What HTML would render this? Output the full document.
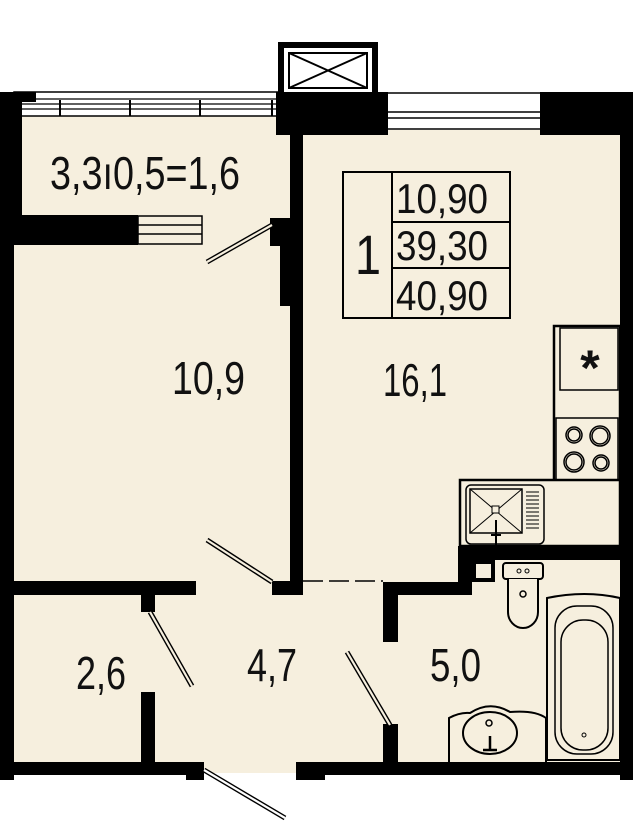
<!DOCTYPE html>
<html><head><meta charset="utf-8"><style>html,body{margin:0;padding:0;background:#fff}svg{display:block}text{font-family:"Liberation Sans",sans-serif;fill:#111}</style></head>
<body>
<svg width="633" height="830" viewBox="0 0 633 830" xmlns="http://www.w3.org/2000/svg">
<rect x="14" y="100" width="610" height="665" fill="#f6efde"/>
<rect x="200" y="765" width="100" height="8" fill="#f6efde"/>
<rect x="278" y="42" width="100" height="55" fill="#000"/>
<rect x="284" y="48" width="88" height="46" fill="#fff"/>
<rect x="289" y="53" width="78" height="35" fill="#fff" stroke="#000" stroke-width="2"/>
<path d="M289 53 L367 88 M367 53 L289 88" stroke="#000" stroke-width="2"/>
<rect x="14" y="92" width="264" height="24" fill="#fff" stroke="#000" stroke-width="1.5"/>
<path d="M22 99 H278 M22 104 H278 M22 109 H278" stroke="#000" stroke-width="1.2"/>
<path d="M60 100 V116 M130 100 V116 M200 100 V116 M272 100 V116" stroke="#000" stroke-width="2"/>
<rect x="0" y="92" width="22" height="143" fill="#000"/>
<rect x="0" y="92" width="36" height="10" fill="#000"/>
<rect x="0" y="230" width="14" height="550" fill="#000"/>
<rect x="0" y="215" width="138" height="30" fill="#000"/>
<rect x="138" y="216" width="64" height="28" fill="#f6efde" stroke="#000" stroke-width="1.5"/>
<path d="M138 225 H202 M138 234 H202" stroke="#000" stroke-width="1.5"/>
<rect x="276" y="92" width="112" height="43" fill="#000"/>
<rect x="290" y="92" width="13" height="490" fill="#000"/>
<rect x="270" y="218" width="20" height="28" fill="#000"/>
<rect x="280" y="246" width="10" height="60" fill="#000"/>
<rect x="388" y="92" width="152" height="38" fill="#fff"/>
<path d="M388 93 H540 M388 112 H540 M388 118 H540 M388 129 H540" stroke="#000" stroke-width="1.5"/>
<rect x="540" y="92" width="93" height="43" fill="#000"/>
<rect x="620" y="92" width="13" height="688" fill="#000"/>
<rect x="343" y="172" width="167" height="146" fill="none" stroke="#000" stroke-width="2"/>
<path d="M392 172 V318 M392 222 H510 M392 268 H510" stroke="#000" stroke-width="2"/>
<text x="368" y="274" font-size="56" text-anchor="middle" textLength="26" lengthAdjust="spacingAndGlyphs">1</text>
<text x="396" y="213" font-size="42" textLength="92" lengthAdjust="spacingAndGlyphs">10,90</text>
<text x="396" y="260" font-size="42" textLength="92" lengthAdjust="spacingAndGlyphs">39,30</text>
<text x="396" y="310" font-size="42" textLength="92" lengthAdjust="spacingAndGlyphs">40,90</text>
<rect x="554" y="326" width="66" height="155" fill="#f6efde" stroke="#000" stroke-width="2.5"/>
<rect x="560" y="328" width="58" height="62" fill="#f6efde" stroke="#000" stroke-width="1.5"/>
<text x="590" y="385" font-size="50" font-weight="bold" text-anchor="middle">*</text>
<rect x="556" y="418" width="62" height="62" fill="#f6efde" stroke="#000" stroke-width="1.5"/>
<g fill="none" stroke="#000" stroke-width="1.5">
<circle cx="574" cy="435" r="8"/><circle cx="574" cy="435" r="6"/>
<circle cx="600" cy="436" r="10"/><circle cx="600" cy="436" r="8"/>
<circle cx="574" cy="462" r="10"/><circle cx="574" cy="462" r="8"/>
<circle cx="601" cy="463" r="8"/><circle cx="601" cy="463" r="6"/>
</g>
<rect x="460" y="480" width="160" height="66" fill="#f6efde" stroke="#000" stroke-width="2.5"/>
<rect x="466" y="485" width="78" height="59" rx="5" fill="none" stroke="#000" stroke-width="1.5"/>
<rect x="470" y="489" width="52" height="44" fill="none" stroke="#000" stroke-width="1.5"/>
<path d="M470 489 L522 533 M522 489 L470 533" stroke="#000" stroke-width="1"/>
<rect x="492" y="506" width="7" height="7" fill="#f6efde" stroke="#000"/>
<path d="M496 520 V545 M491 535 H501" stroke="#000" stroke-width="2"/>
<path d="M526 492 H539 M526 496 H539 M526 500 H539 M526 504 H539 M526 508 H539 M526 512 H539 M526 516 H539 M526 520 H539 M526 524 H539 M526 528 H539" stroke="#000" stroke-width="1"/>
<rect x="458" y="546" width="175" height="14" fill="#000"/>
<rect x="458" y="546" width="14" height="49" fill="#000"/>
<rect x="472" y="560" width="23" height="22" fill="#000"/>
<rect x="476" y="564" width="15" height="14" fill="#f6efde"/>
<rect x="14" y="581" width="182" height="14" fill="#000"/>
<rect x="272" y="581" width="31" height="14" fill="#000"/>
<path d="M303 581 H383" stroke="#000" stroke-width="1.5" stroke-dasharray="20,6"/>
<rect x="383" y="582" width="89" height="13" fill="#000"/>
<rect x="383" y="582" width="15" height="60" fill="#000"/>
<rect x="141" y="594" width="14" height="18" fill="#000"/>
<rect x="141" y="692" width="14" height="72" fill="#000"/>
<rect x="383" y="724" width="15" height="40" fill="#000"/>
<rect x="0" y="762" width="204" height="13" fill="#000"/>
<rect x="186" y="762" width="18" height="18" fill="#000"/>
<rect x="296" y="762" width="337" height="13" fill="#000"/>
<rect x="296" y="762" width="29" height="18" fill="#000"/>
<g stroke="#000" stroke-width="5" stroke-linecap="butt"><path d="M207 262 L272 225"/><path d="M207 540 L272 582"/><path d="M150 612 L192 686"/><path d="M347 652 L390 725"/><path d="M204 770 L285 818"/></g>
<g stroke="#f6efde" stroke-width="2.2"><path d="M207 262 L272 225"/><path d="M207 540 L272 582"/><path d="M150 612 L192 686"/><path d="M347 652 L390 725"/><path d="M204 770 L285 818" stroke="#fff"/></g>
<rect x="503" y="563" width="40" height="16" rx="3" fill="#f6efde" stroke="#000" stroke-width="2"/>
<path d="M508 579 V612 a15 16 0 0 0 30 0 V579" fill="#f6efde" stroke="#000" stroke-width="2"/>
<circle cx="519" cy="571" r="2" fill="none" stroke="#000"/><circle cx="527" cy="571" r="2" fill="none" stroke="#000"/>
<circle cx="523" cy="594" r="3" fill="none" stroke="#000" stroke-width="1.5"/>
<path d="M547 598 Q585 590 620 598 V760 H547 Z" fill="#f6efde" stroke="#000" stroke-width="2"/>
<rect x="555" y="606" width="58" height="148" rx="22" fill="none" stroke="#000" stroke-width="1.5"/>
<rect x="561" y="620" width="47" height="130" rx="22" fill="none" stroke="#000" stroke-width="1.5"/>
<circle cx="584" cy="735" r="2" fill="none" stroke="#000"/>
<path d="M449 762 V718 Q460 712 470 713 Q490 700 510 712 Q535 710 546 718 V762" fill="#f6efde" stroke="#000" stroke-width="2"/>
<ellipse cx="490" cy="733" rx="27" ry="21" fill="none" stroke="#000" stroke-width="2"/>
<circle cx="489" cy="723" r="3" fill="none" stroke="#000" stroke-width="1.5"/>
<path d="M490 736 V750 M483 750 H497" stroke="#000" stroke-width="2.5"/>
<text x="50" y="189" font-size="46" textLength="190" lengthAdjust="spacingAndGlyphs">3,3ı0,5=1,6</text>
<text x="172" y="394" font-size="46" textLength="73" lengthAdjust="spacingAndGlyphs">10,9</text>
<text x="383" y="396" font-size="46" textLength="64" lengthAdjust="spacingAndGlyphs">16,1</text>
<text x="76" y="689" font-size="46" textLength="50" lengthAdjust="spacingAndGlyphs">2,6</text>
<text x="247" y="681" font-size="46" textLength="50" lengthAdjust="spacingAndGlyphs">4,7</text>
<text x="430" y="681" font-size="46" textLength="51" lengthAdjust="spacingAndGlyphs">5,0</text>
</svg>
</body></html>
